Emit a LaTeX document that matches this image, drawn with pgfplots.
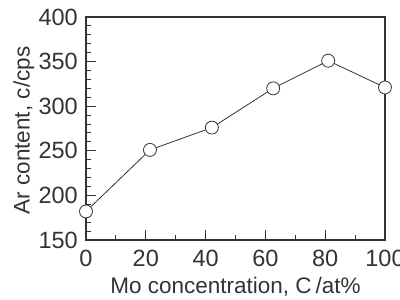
\documentclass[border=0pt]{standalone}
\usepackage{fontspec}
\setmainfont{Liberation Sans}
\usepackage{pgfplots}
\pgfplotsset{compat=1.18}
\definecolor{axisgray}{HTML}{333333}
\begin{document}
\begin{tikzpicture}[x=1pt,y=1pt]
\begin{axis}[
  scale only axis,
  width=299pt, height=223pt,
  at={(0,0)}, anchor=south west,
  xmin=0, xmax=100, ymin=150, ymax=400,
  xtick={0,20,...,100}, minor x tick num=1,
  ytick={150,200,...,400}, minor y tick num=4,
  tick align=inside,
  xtick pos=left, ytick pos=left,
  major tick length=10pt, minor tick length=5pt,
  axis line style={line width=2.2pt, draw=axisgray},
  major tick style={line width=1.2pt, draw=axisgray},
  minor tick style={line width=1pt, draw=axisgray},
  /pgf/number format/assume math mode=true,
  ticklabel style={font=\fontsize{23.5}{23.5}\selectfont, text=axisgray, inner sep=0pt},
  xticklabel style={anchor=north, yshift=-10pt},
  yticklabel style={anchor=east, xshift=-8pt},
  label style={font=\fontsize{22.5}{22.5}\selectfont, text=axisgray, inner sep=0pt},
  xlabel={Mo concentration, C\,/at\%},
  ylabel={Ar content, c/cps},
  xlabel style={at={(rel axis cs:0.5,0)}, anchor=north, yshift=-37pt},
  % the label is turned by 90 degrees, so its shifts act in the turned frame
  ylabel style={at={(rel axis cs:0,0.5)}, anchor=north, yshift=73pt, xshift=-2pt},
  clip=false,
]
\addplot[draw=axisgray, line width=0.8pt, mark=*, mark size=6.5pt,
  mark options={fill=white, draw=axisgray, line width=0.8pt}]
  coordinates {(0,182) (21.4,251) (42.1,276) (62.6,320) (81,351) (100,321)};
\end{axis}
\pgfresetboundingbox
\path (-86,-60) rectangle (314,240);
\end{tikzpicture}
\end{document}
